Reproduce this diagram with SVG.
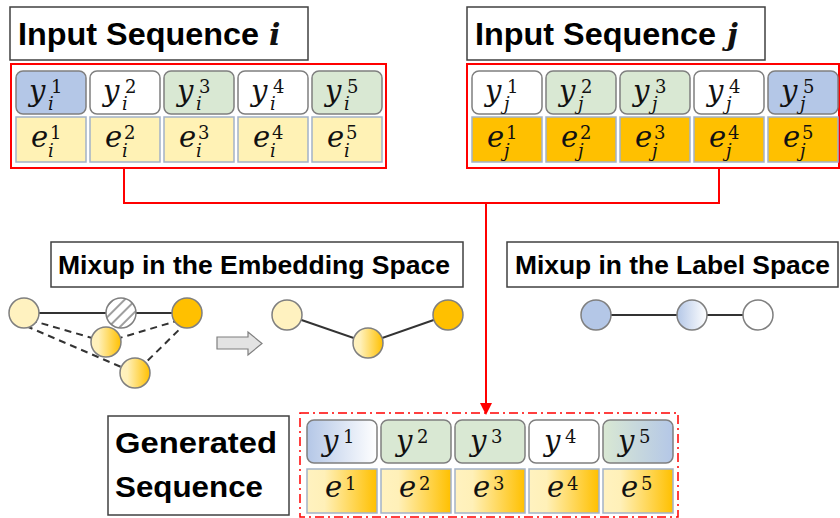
<svg xmlns="http://www.w3.org/2000/svg" width="840" height="518" viewBox="0 0 840 518">
<style>
.t{font-family:"Liberation Sans",Arial,sans-serif;font-weight:bold;fill:#000}
.box{fill:#fff;stroke:#404040;stroke-width:1.5}
.yc{stroke:#7f7f7f;stroke-width:1.5}
.ec{stroke:#a3b2c8;stroke-width:1.5}
.m{font-family:"DejaVu Serif",serif;font-style:italic;fill:#111}
.d{font-family:"DejaVu Serif",serif;fill:#111}
.red{fill:none;stroke:#ff0000;stroke-width:2}
.circ{stroke:#7f7f7f;stroke-width:1.5}
.ln{stroke:#333;stroke-width:2;fill:none}
.dash{stroke:#333;stroke-width:2;fill:none;stroke-dasharray:7 5}
</style>
<defs>
<linearGradient id="gBW" x1="0" x2="1" y1="0" y2="0"><stop offset="0" stop-color="#b4c7e7"/><stop offset="1" stop-color="#ffffff"/></linearGradient>
<linearGradient id="gGB" x1="0" x2="1" y1="0" y2="0"><stop offset="0" stop-color="#d9e8d3"/><stop offset="1" stop-color="#b4c7e7"/></linearGradient>
<linearGradient id="gYO" x1="0" x2="1" y1="0" y2="0"><stop offset="0" stop-color="#fff2c0"/><stop offset="0.25" stop-color="#fff0b8"/><stop offset="1" stop-color="#ffc000"/></linearGradient>
<pattern id="hatch" patternUnits="userSpaceOnUse" width="8" height="8" patternTransform="rotate(-45)">
<rect width="8" height="8" fill="#fff"/><line x1="0" y1="4" x2="8" y2="4" stroke="#7f7f7f" stroke-width="1.5"/>
</pattern>
<marker id="ah" markerWidth="12" markerHeight="12" refX="10" refY="6" orient="auto" markerUnits="userSpaceOnUse">
<path d="M0,0 L12,6 L0,12 Z" fill="#ff0000"/>
</marker>
</defs>

<g id="connectors">
<path class="red" d="M124 168 V203 H719 V168"/>
<path class="red" d="M486 203 V413" marker-end="url(#ah)"/>
</g>

<g id="title-i">
<rect class="box" x="10" y="7" width="298" height="53"/>
<text class="t" x="18" y="45" font-size="31" textLength="241" lengthAdjust="spacingAndGlyphs">Input Sequence</text>
<text class="m" x="269" y="45" font-size="30" font-weight="bold">i</text>
</g>

<g id="title-j">
<rect class="box" x="467" y="7" width="298" height="53"/>
<text class="t" x="475" y="45" font-size="31" textLength="241" lengthAdjust="spacingAndGlyphs">Input Sequence</text>
<text class="m" x="727" y="45" font-size="30" font-weight="bold">j</text>
</g>

<g id="seq-i">
<rect class="red" x="11" y="64" width="375" height="104"/>
<rect class="yc" x="16" y="71" width="70" height="43" rx="7" fill="#b4c7e7"/>
<rect class="yc" x="90" y="71" width="70" height="43" rx="7" fill="#fff"/>
<rect class="yc" x="164" y="71" width="70" height="43" rx="7" fill="#d9e8d3"/>
<rect class="yc" x="238" y="71" width="70" height="43" rx="7" fill="#fff"/>
<rect class="yc" x="312" y="71" width="70" height="43" rx="7" fill="#d9e8d3"/>
<rect class="ec" x="16" y="117" width="70" height="45" fill="#fff2b5"/>
<rect class="ec" x="90" y="117" width="70" height="45" fill="#fff2b5"/>
<rect class="ec" x="164" y="117" width="70" height="45" fill="#fff2b5"/>
<rect class="ec" x="238" y="117" width="70" height="45" fill="#fff2b5"/>
<rect class="ec" x="312" y="117" width="70" height="45" fill="#fff2b5"/>
<g font-size="29">
<text class="m" x="29" y="101">y</text><text class="m" x="103" y="101">y</text><text class="m" x="177" y="101">y</text><text class="m" x="251" y="101">y</text><text class="m" x="325" y="101">y</text>
<text class="m" x="31" y="147">e</text><text class="m" x="105" y="147">e</text><text class="m" x="179" y="147">e</text><text class="m" x="253" y="147">e</text><text class="m" x="327" y="147">e</text>
</g>
<g font-size="18">
<text class="d" x="51" y="93">1</text><text class="d" x="125" y="93">2</text><text class="d" x="199" y="93">3</text><text class="d" x="273" y="93">4</text><text class="d" x="347" y="93">5</text>
<text class="m" x="48" y="110">i</text><text class="m" x="122" y="110">i</text><text class="m" x="196" y="110">i</text><text class="m" x="270" y="110">i</text><text class="m" x="344" y="110">i</text>
<text class="d" x="50" y="139">1</text><text class="d" x="124" y="139">2</text><text class="d" x="198" y="139">3</text><text class="d" x="272" y="139">4</text><text class="d" x="346" y="139">5</text>
<text class="m" x="48" y="157">i</text><text class="m" x="122" y="157">i</text><text class="m" x="196" y="157">i</text><text class="m" x="270" y="157">i</text><text class="m" x="344" y="157">i</text>
</g>
</g>

<g id="seq-j">
<rect class="red" x="467" y="64" width="372" height="104"/>
<rect class="yc" x="472" y="71" width="70" height="43" rx="7" fill="#fff"/>
<rect class="yc" x="546" y="71" width="70" height="43" rx="7" fill="#d9e8d3"/>
<rect class="yc" x="620" y="71" width="70" height="43" rx="7" fill="#d9e8d3"/>
<rect class="yc" x="694" y="71" width="70" height="43" rx="7" fill="#fff"/>
<rect class="yc" x="768" y="71" width="70" height="43" rx="7" fill="#b4c7e7"/>
<rect class="ec" x="472" y="117" width="70" height="45" fill="#ffc000"/>
<rect class="ec" x="546" y="117" width="70" height="45" fill="#ffc000"/>
<rect class="ec" x="620" y="117" width="70" height="45" fill="#ffc000"/>
<rect class="ec" x="694" y="117" width="70" height="45" fill="#ffc000"/>
<rect class="ec" x="768" y="117" width="70" height="45" fill="#ffc000"/>
<g font-size="29">
<text class="m" x="485" y="101">y</text><text class="m" x="559" y="101">y</text><text class="m" x="633" y="101">y</text><text class="m" x="707" y="101">y</text><text class="m" x="781" y="101">y</text>
<text class="m" x="487" y="147">e</text><text class="m" x="561" y="147">e</text><text class="m" x="635" y="147">e</text><text class="m" x="709" y="147">e</text><text class="m" x="783" y="147">e</text>
</g>
<g font-size="18">
<text class="d" x="507" y="93">1</text><text class="d" x="581" y="93">2</text><text class="d" x="655" y="93">3</text><text class="d" x="729" y="93">4</text><text class="d" x="803" y="93">5</text>
<text class="m" x="504" y="110">j</text><text class="m" x="578" y="110">j</text><text class="m" x="652" y="110">j</text><text class="m" x="726" y="110">j</text><text class="m" x="800" y="110">j</text>
<text class="d" x="506" y="139">1</text><text class="d" x="580" y="139">2</text><text class="d" x="654" y="139">3</text><text class="d" x="728" y="139">4</text><text class="d" x="802" y="139">5</text>
<text class="m" x="504" y="157">j</text><text class="m" x="578" y="157">j</text><text class="m" x="652" y="157">j</text><text class="m" x="726" y="157">j</text><text class="m" x="800" y="157">j</text>
</g>
</g>

<g id="title-embedding">
<rect class="box" x="51" y="242" width="412" height="45"/>
<text class="t" x="58" y="274" font-size="25.5" textLength="392" lengthAdjust="spacingAndGlyphs">Mixup in the Embedding Space</text>
</g>

<g id="title-label">
<rect class="box" x="507" y="242" width="331" height="45"/>
<text class="t" x="515" y="274" font-size="25.5" textLength="315" lengthAdjust="spacingAndGlyphs">Mixup in the Label Space</text>
</g>

<g id="embedding-before">
<line class="ln" x1="24" y1="313" x2="187" y2="313"/>
<path class="dash" d="M30 320 L106 342 M26 326 L135 373 M180 320 L106 342 M187 322 L135 373"/>
<circle class="circ" cx="24" cy="313" r="15" fill="#fff2c0"/>
<circle class="circ" cx="121" cy="313" r="15" fill="url(#hatch)"/>
<circle class="circ" cx="187" cy="313" r="15" fill="#ffc000"/>
<circle class="circ" cx="106" cy="342" r="15" fill="url(#gYO)"/>
<circle class="circ" cx="135" cy="373" r="15" fill="url(#gYO)"/>
</g>

<g id="block-arrow">
<path d="M217 337 H248 V332 L262 343.5 L248 355 V349 H217 Z" fill="#e3e3e3" stroke="#7f7f7f" stroke-width="1.2"/>
</g>

<g id="embedding-after">
<path class="ln" d="M287 315 L368 343 L448 315"/>
<circle class="circ" cx="287" cy="315" r="15" fill="#fff2c0"/>
<circle class="circ" cx="368" cy="343" r="15" fill="url(#gYO)"/>
<circle class="circ" cx="448" cy="315" r="15" fill="#ffc000"/>
</g>

<g id="label-mix">
<line class="ln" x1="596" y1="315" x2="758" y2="315"/>
<circle class="circ" cx="596" cy="315" r="15" fill="#b4c7e7"/>
<circle class="circ" cx="692" cy="315" r="15" fill="url(#gBW)"/>
<circle class="circ" cx="758" cy="315" r="15" fill="#fff"/>
</g>

<g id="title-generated">
<rect class="box" x="108" y="416" width="181" height="99"/>
<text class="t" x="115" y="453" font-size="30" textLength="162" lengthAdjust="spacingAndGlyphs">Generated</text>
<text class="t" x="115" y="497" font-size="30" textLength="148" lengthAdjust="spacingAndGlyphs">Sequence</text>
</g>

<g id="seq-generated">
<rect x="300" y="413" width="378" height="104" fill="none" stroke="#ff0000" stroke-width="1.5" stroke-dasharray="9 4 2 4"/>
<rect class="yc" x="307" y="420" width="70" height="43" rx="7" fill="url(#gBW)"/>
<rect class="yc" x="381" y="420" width="70" height="43" rx="7" fill="#d9e8d3"/>
<rect class="yc" x="455" y="420" width="70" height="43" rx="7" fill="#d9e8d3"/>
<rect class="yc" x="529" y="420" width="70" height="43" rx="7" fill="#fff"/>
<rect class="yc" x="603" y="420" width="70" height="43" rx="7" fill="url(#gGB)"/>
<rect class="ec" x="307" y="469" width="70" height="44" fill="url(#gYO)"/>
<rect class="ec" x="381" y="469" width="70" height="44" fill="url(#gYO)"/>
<rect class="ec" x="455" y="469" width="70" height="44" fill="url(#gYO)"/>
<rect class="ec" x="529" y="469" width="70" height="44" fill="url(#gYO)"/>
<rect class="ec" x="603" y="469" width="70" height="44" fill="url(#gYO)"/>
<g font-size="29">
<text class="m" x="322" y="451">y</text><text class="m" x="396" y="451">y</text><text class="m" x="470" y="451">y</text><text class="m" x="544" y="451">y</text><text class="m" x="618" y="451">y</text>
<text class="m" x="325" y="497">e</text><text class="m" x="399" y="497">e</text><text class="m" x="473" y="497">e</text><text class="m" x="547" y="497">e</text><text class="m" x="621" y="497">e</text>
</g>
<g font-size="18">
<text class="d" x="343" y="443">1</text><text class="d" x="417" y="443">2</text><text class="d" x="491" y="443">3</text><text class="d" x="565" y="443">4</text><text class="d" x="639" y="443">5</text>
<text class="d" x="345" y="490">1</text><text class="d" x="419" y="490">2</text><text class="d" x="493" y="490">3</text><text class="d" x="567" y="490">4</text><text class="d" x="641" y="490">5</text>
</g>
</g>
</svg>
